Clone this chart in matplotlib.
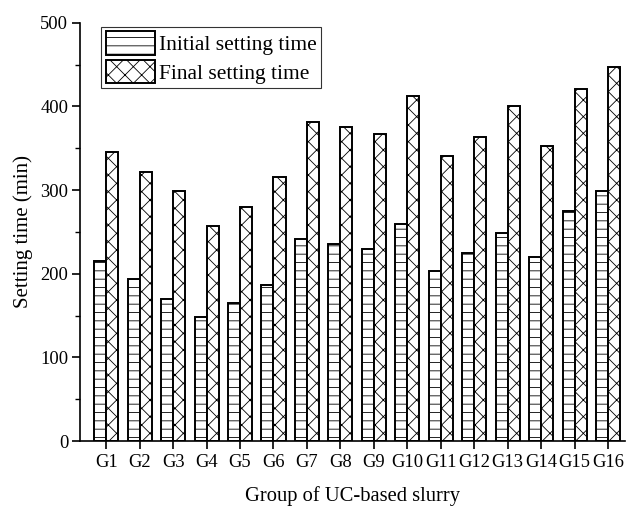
import numpy as np
import matplotlib
matplotlib.use('Agg')
import matplotlib.pyplot as plt
from matplotlib.ticker import MultipleLocator

# Setting times (min)
groups = ['G%d' % i for i in range(1, 17)]
initial_time = [215, 194, 170, 148, 165, 187, 241, 236, 230, 260, 203, 225, 249, 220, 275, 299]
final_time = [345, 322, 299, 257, 280, 316, 382, 376, 367, 413, 341, 364, 401, 353, 421, 447]

plt.rcParams['font.family'] = ['Liberation Serif', 'DejaVu Serif']
plt.rcParams['hatch.linewidth'] = 0.6
plt.rcParams['hatch.color'] = 'black'

fig = plt.figure(figsize=(6.26, 5.07), dpi=100)
ax = fig.add_axes([0.128, 0.130, 0.870, 0.825])

x = np.arange(1, len(groups) + 1)
w = 0.36
ax.bar(x - w / 2, initial_time, w, facecolor='white', edgecolor='black',
       linewidth=1.4, hatch='--', label='Initial setting time')
ax.bar(x + w / 2, final_time, w, facecolor='white', edgecolor='black',
       linewidth=1.4, hatch='xx', label='Final setting time')

ax.set_xlim(0.22, 16.5)
ax.set_ylim(0, 500)
ax.set_xticks(x)
ax.set_xticklabels(groups)
ax.yaxis.set_major_locator(MultipleLocator(100))
ax.yaxis.set_minor_locator(MultipleLocator(50))

for s in ['top', 'right']:
    ax.spines[s].set_visible(False)
for s in ['left', 'bottom']:
    ax.spines[s].set_linewidth(1.2)

ax.tick_params(axis='both', which='major', direction='out', length=5.5, width=1.2, labelsize=13.3)
ax.tick_params(axis='y', which='minor', direction='out', length=3.5, width=1.0)
ax.tick_params(axis='x', pad=4)
ax.tick_params(axis='y', pad=3)

ax.set_xlabel('Group of UC-based slurry', fontsize=14.8, labelpad=11)
ax.set_ylabel('Setting time (min)', fontsize=15, labelpad=5)

leg = ax.legend(loc='upper left', bbox_to_anchor=(0.027, 1.005), fontsize=15.5,
                frameon=True, fancybox=False, borderpad=0.2, labelspacing=0.2,
                handlelength=2.3, handleheight=1.3, handletextpad=0.2, borderaxespad=0.3)
leg.get_frame().set_edgecolor('black')
leg.get_frame().set_linewidth(0.8)

plt.savefig('out.png', dpi=100)
